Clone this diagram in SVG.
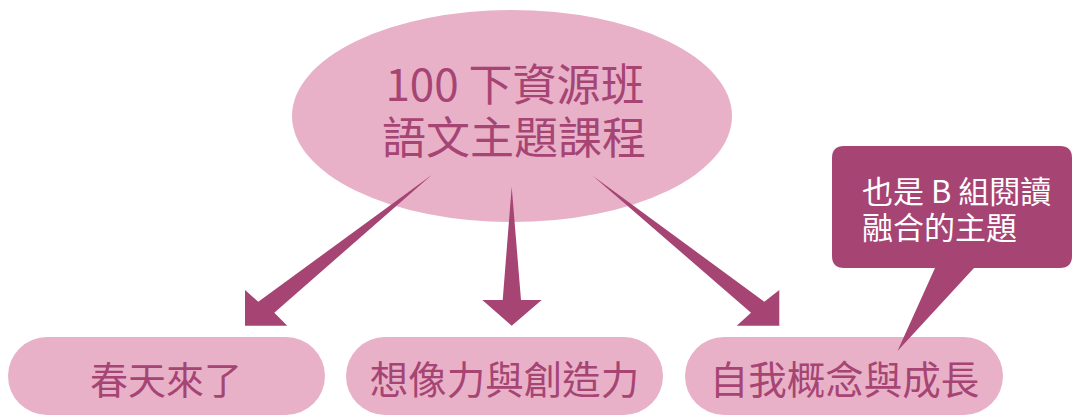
<svg xmlns="http://www.w3.org/2000/svg" width="1073" height="415" viewBox="0 0 1073 415">
<style>
.shape{fill:#E8B1C8}
.lbl{fill:#A64474;font-family:"Noto Sans CJK TC","Noto Sans CJK SC",sans-serif;text-anchor:middle}
.arrow{fill:#A64474}
.callout{fill:#A64474}
.ctext{fill:#FFFFFF;font-family:"Noto Sans CJK TC","Noto Sans CJK SC",sans-serif;font-size:31px}
</style>
<rect width="1073" height="415" fill="#FFFFFF"/>
<g id="root">
<ellipse class="shape" cx="512" cy="116" rx="220" ry="106"/>
<text class="lbl" font-size="44"><tspan x="515" y="101">100 下資源班</tspan><tspan x="514" y="154">語文主題課程</tspan></text>
</g>
<g id="connectors">
<polygon class="arrow" points="431.7,175 274.3,312.7 287.3,325.7 245,325.7 245,290 258.3,301.7"/>
<polygon class="arrow" points="511.7,186.7 521,300 541.7,300 511.7,325.7 482.3,300 502.7,300"/>
<polygon class="arrow" points="592.7,175.7 751,312.7 736.7,325.7 779.3,325.7 779.3,290 764.3,301.7"/>
</g>
<g id="node-spring">
<rect class="shape" x="8" y="337" width="317" height="78" rx="39"/>
<text class="lbl" x="166" y="393.5" font-size="38">春天來了</text>
</g>
<g id="node-imagination">
<rect class="shape" x="346" y="337" width="317" height="78" rx="39"/>
<text class="lbl" x="504.5" y="393.5" font-size="38.5">想像力與創造力</text>
</g>
<g id="node-self">
<rect class="shape" x="685" y="337" width="318" height="78" rx="39"/>
<text class="lbl" x="844.5" y="393.5" font-size="38.5">自我概念與成長</text>
</g>
<g id="callout">
<path class="callout" d="M844,146 H1060 Q1072,146 1072,158 V256 Q1072,268 1060,268 H974 L897.5,351 L935,268 H844 Q832,268 832,256 V158 Q832,146 844,146 Z"/>
<text class="ctext"><tspan x="862" y="203">也是 B 組閱讀</tspan><tspan x="862" y="239">融合的主題</tspan></text>
</g>
</svg>
